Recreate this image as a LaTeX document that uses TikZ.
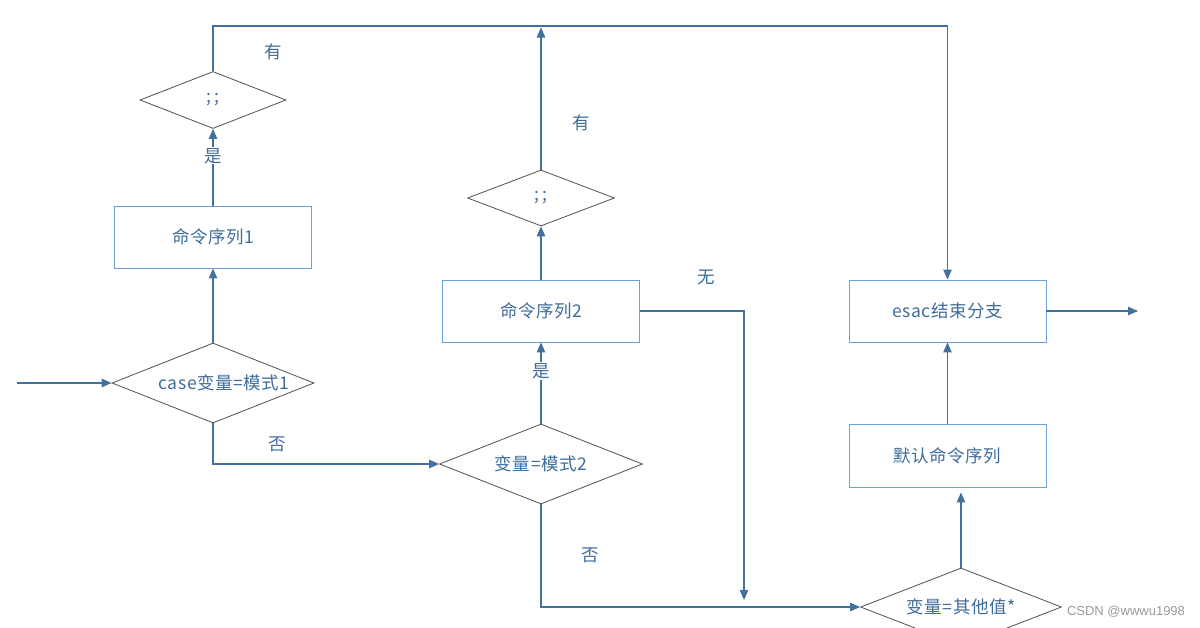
\documentclass[tikz,border=0pt]{standalone}
\usepackage{fontspec}
\setmainfont{Noto Sans CJK SC}[LetterSpace=3]
\newfontfamily\wmfont{Liberation Sans}
\usepackage{tikz}
\usetikzlibrary{shapes.geometric, arrows.meta, positioning, calc}
\definecolor{flowblue}{HTML}{41719C}
\definecolor{boxblue}{HTML}{6A9FD8}
\definecolor{txtblue}{HTML}{3E6C99}
\definecolor{diagray}{HTML}{505050}

\begin{document}
\begin{tikzpicture}[x=1pt, y=-1pt,
        every node/.style={font=\fontsize{17.5}{20}\selectfont, text=txtblue},
        seqbox/.style={draw=boxblue, line width=0.9pt, minimum width=197pt, minimum height=62pt, inner sep=0pt},
        choice/.style={diamond, draw=diagray, line width=0.8pt, aspect=2.5, inner sep=0pt},
        flow/.style={draw=flowblue, line width=1.1pt, -{Triangle[length=10pt, width=8.5pt]}},
        lbl/.style={fill=white, inner sep=1pt, pos=0.65}]
        \useasboundingbox (0,0) rectangle (1200,627);
        \node[choice, minimum width=146pt, minimum height=57pt] (semi1) at (213,100) {\makebox[0pt]{;\,;}};
        \node[seqbox] (seq1) at (213,237) {命令序列1};
        \node[choice, minimum width=202pt, minimum height=80pt] (case1) at (213,383) {\makebox[0pt]{\hspace{22pt}case变量=模式1}};
        \node[choice, minimum width=203pt, minimum height=80pt] (case2) at (541,464) {\makebox[0pt]{变量=模式2}};
        \node[seqbox] (seq2) at (541,311) {命令序列2};
        \node[choice, minimum width=147pt, minimum height=56pt] (semi2) at (541,198) {\makebox[0pt]{;\,;}};
        \node[seqbox] (esac) at (947.5,311) {esac结束分支};
        \node[seqbox, minimum height=63pt] (dflt) at (947.5,455.5) {默认命令序列};
        \node[choice, minimum width=201pt, minimum height=78pt] (other) at (961,607) {\makebox[0pt]{变量=其他值*}};
        \coordinate (start) at (17,383);
        \coordinate (top) at (0,26);
        \coordinate (drop) at (744,600);
        \coordinate (exit) at (1138,311);
        \node (has1) at (273,52) {有};
        \node (has2) at (581,123) {有};
        \node (none) at (706,277) {无};
        \node (no1) at (277,444) {否};
        \node (no2) at (590,555) {否};
        \node[font=\wmfont\fontsize{13}{15}\selectfont, text=gray!80] (mark) at (1126,612) {CSDN @wwwu1998};

        \draw[flow] (start) -- (case1.west);
        \draw[flow] (case1.north) -- (seq1.south);
        \draw[flow] (seq1.north) -- node[lbl] {是} (semi1.south);
        \draw[flow] (semi1.north) -- (semi1.north |- top) -| (esac.north);
        \draw[flow] (case1.south) |- (case2.west);
        \draw[flow] (case2.north) -- node[lbl] {是} (seq2.south);
        \draw[flow] (seq2.north) -- (semi2.south);
        \draw[flow, shorten >=1.5pt] (semi2.north) -- (semi2.north |- top);
        \draw[flow] (seq2.east) -| (drop);
        \draw[flow] (case2.south) |- (other.west);
        \draw[flow, shorten >=5pt] (other.north) -- (other.north |- dflt.south);
        \draw[flow] (dflt.north) -- (esac.south);
        \draw[flow] (esac.east) -- (exit);
    \end{tikzpicture}
\end{document}
